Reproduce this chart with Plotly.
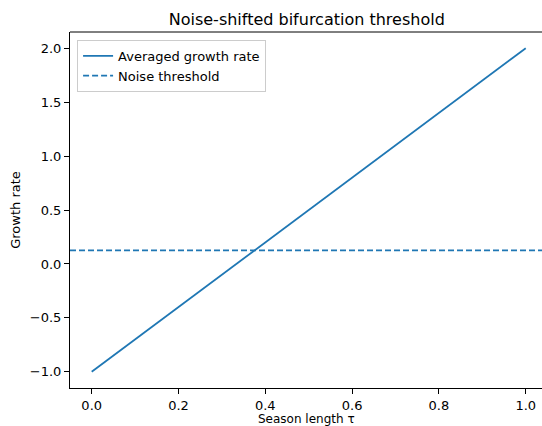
import plotly.graph_objects as go

tau = [0.0, 1.0]
growth = [-1.0, 2.0]
threshold = 0.125
x_ticks = [0.0, 0.2, 0.4, 0.6, 0.8, 1.0]
y_ticks = [-1.0, -0.5, 0.0, 0.5, 1.0, 1.5, 2.0]


def fmt(v):
    return f"{v:.1f}".replace("-", "\u2212")


color = "#1f77b4"
font = "DejaVu Sans"
fs = 13

fig = go.Figure()
fig.add_trace(go.Scatter(x=tau, y=growth, mode="lines", name="Averaged growth rate",
                         line=dict(color=color, width=1.8)))
fig.add_trace(go.Scatter(x=[-0.05, 1.05], y=[threshold, threshold], mode="lines",
                         name="Noise threshold",
                         line=dict(color=color, width=1.8, dash="6px,3px")))

fig.add_shape(type="line", xref="paper", yref="paper", x0=0, x1=1, y0=1, y1=1,
              line=dict(color="black", width=1))
fig.add_annotation(text="Season length τ", xref="paper", yref="paper", x=0.5, y=0,
                   xanchor="center", yanchor="middle", yshift=-30.5, showarrow=False,
                   font=dict(family=font, size=12, color="black"))

fig.update_layout(
    width=542, height=426,
    margin=dict(l=70, r=0, t=32, b=38),
    plot_bgcolor="white", paper_bgcolor="white",
    font=dict(family=font, size=fs, color="black"),
    title=dict(text="Noise-shifted bifurcation threshold", x=0.566, xanchor="center",
               y=0.955, yanchor="middle", font=dict(size=16)),
    showlegend=True,
    legend=dict(x=0.015, y=0.978, xanchor="left", yanchor="top",
                bgcolor="rgba(255,255,255,0.8)", bordercolor="#cccccc", borderwidth=1,
                font=dict(size=fs), tracegroupgap=0),
    xaxis=dict(range=[-0.05, 1.0375], tickvals=x_ticks,
               ticktext=[fmt(v) for v in x_ticks], automargin=False,
               tickfont=dict(size=fs),
               showgrid=False, zeroline=False, showline=True, linecolor="black",
               linewidth=1, ticks="outside", ticklen=5, tickcolor="black"),
    yaxis=dict(range=[-1.15, 2.15], tickvals=y_ticks,
               ticktext=[fmt(v) for v in y_ticks], automargin=False,
               tickfont=dict(size=fs),
               showgrid=False, zeroline=False, showline=True, linecolor="black",
               linewidth=1, ticks="outside", ticklen=5, tickcolor="black",
               title=dict(text="Growth rate", standoff=6, font=dict(size=fs))),
)

fig.write_html("out.html", config={"displayModeBar": False},
               post_script="document.body.style.margin='0';")
